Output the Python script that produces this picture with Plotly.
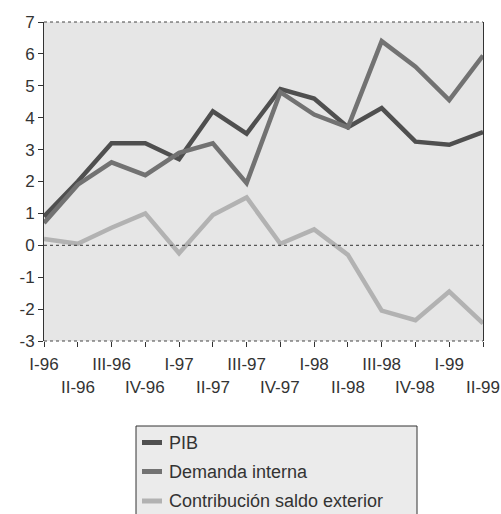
import plotly.graph_objects as go

trimestres = ["I-96", "II-96", "III-96", "IV-96", "I-97", "II-97", "III-97",
              "IV-97", "I-98", "II-98", "III-98", "IV-98", "I-99", "II-99"]
pib = [0.9, 2.0, 3.2, 3.2, 2.7, 4.2, 3.5, 4.9, 4.6, 3.7, 4.3, 3.25, 3.15, 3.55]
demanda_interna = [0.7, 1.9, 2.6, 2.2, 2.9, 3.2, 1.95, 4.8, 4.1, 3.7, 6.4, 5.6, 4.55, 5.95]
saldo_exterior = [0.2, 0.05, 0.55, 1.0, -0.25, 0.95, 1.5, 0.05, 0.5, -0.3, -2.05, -2.35, -1.45, -2.45]
y_ticks = [-3, -2, -1, 0, 1, 2, 3, 4, 5, 6, 7]
y_tick_labels = [str(v) for v in y_ticks]  # plain hyphen for negatives

series = [
    ("PIB", pib, "#4f4f4f"),
    ("Demanda interna", demanda_interna, "#727272"),
    ("Contribución saldo exterior", saldo_exterior, "#b2b2b2"),
]

W, H = 501, 514
M_L, M_R, M_T, M_B = 44, 18, 22, 173
PW, PH = W - M_L - M_R, H - M_T - M_B
FONT = "Liberation Sans, Arial, sans-serif"


def px_x(px):
    """Horizontal pixel on the page -> paper coordinate."""
    return (px - M_L) / PW


def px_y(py):
    """Vertical pixel on the page -> paper coordinate."""
    return (H - M_B - py) / PH


idx = list(range(len(trimestres)))

fig = go.Figure()
for name, values, color in series:
    fig.add_trace(go.Scatter(x=idx, y=values, name=name, mode="lines",
                             line=dict(color=color, width=4.5), showlegend=False))

# first row of quarter labels on the axis, second row set lower as annotations
row1 = [t if i % 2 == 0 else "" for i, t in enumerate(trimestres)]
annotations = [
    dict(x=i, y=0, xref="x", yref="paper", text=t, showarrow=False,
         yanchor="top", yshift=-35, font=dict(family=FONT, size=17, color="#333"))
    for i, t in enumerate(trimestres) if i % 2 == 1
]

shapes = [
    dict(type="line", xref="paper", yref="y", x0=0, x1=1, y0=0, y1=0,
         line=dict(color="#333", width=1, dash="dot")),
    dict(type="line", xref="paper", yref="paper", x0=0, x1=1, y0=1, y1=1,
         line=dict(color="#444", width=1, dash="dot")),
    dict(type="line", xref="paper", yref="paper", x0=0, x1=1, y0=0, y1=0,
         line=dict(color="#444", width=1, dash="dot")),
]

# boxed legend below the chart
box_l, box_r, box_t, box_b = 136, 417, 426, 530
shapes.append(dict(type="rect", xref="paper", yref="paper",
                   x0=px_x(box_l), x1=px_x(box_r), y0=px_y(box_t), y1=px_y(box_b),
                   fillcolor="#ebebeb", line=dict(color="#333", width=1), layer="below"))
row_y = [442.5, 471.5, 501]
for (name, _, color), ry in zip(series, row_y):
    shapes.append(dict(type="line", xref="paper", yref="paper",
                       x0=px_x(142), x1=px_x(162), y0=px_y(ry), y1=px_y(ry),
                       line=dict(color=color, width=5)))
    annotations.append(dict(x=px_x(167), y=px_y(ry), xref="paper", yref="paper",
                            text=name, showarrow=False, xanchor="left", yanchor="middle",
                            font=dict(family=FONT, size=18, color="#333")))

fig.update_layout(
    width=W, height=H,
    margin=dict(l=M_L, r=M_R, t=M_T, b=M_B),
    paper_bgcolor="white",
    plot_bgcolor="#e6e6e6",
    font=dict(family=FONT, size=17, color="#333"),
    showlegend=False,
    annotations=annotations,
    shapes=shapes,
)
fig.update_xaxes(range=[0, 13], tickmode="array", tickvals=idx, ticktext=row1,
                 ticks="outside", ticklen=5, tickcolor="#333", showgrid=False,
                 zeroline=False, showline=False, ticklabelstandoff=3)
fig.update_yaxes(range=[-3, 7], tickmode="array", tickvals=y_ticks,
                 ticktext=y_tick_labels,
                 ticks="outside", ticklen=5, tickcolor="#333", showgrid=False,
                 zeroline=False, showline=True, linecolor="#333", linewidth=1,
                 mirror=True)

fig.write_html("out.html")
